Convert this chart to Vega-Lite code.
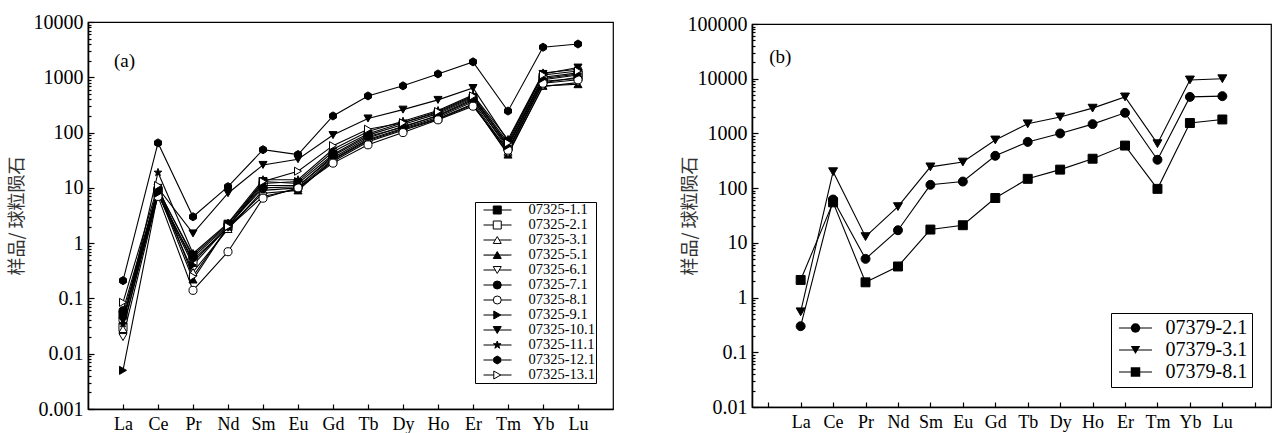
{
  "$schema": "https://vega.github.io/schema/vega-lite/v6.json",
  "background": "white",
  "padding": {"left": 7, "top": 11, "right": 5, "bottom": 0},
  "spacing": 66,
  "resolve": {"scale": {"shape": "independent", "fill": "independent", "stroke": "independent"}, "legend": {"shape": "independent", "fill": "independent", "stroke": "independent"}},
  "config": {
    "font": "Liberation Serif",
    "view": {"stroke": "black", "strokeWidth": 1.2},
    "axis": {
      "domainColor": "black", "domainWidth": 1.6, "tickColor": "black", "tickWidth": 1.2,
      "labelColor": "black", "labelFont": "Liberation Serif", "labelFontSize": 18, "grid": false
    }
  },
  "datasets": {
    "a": [
      {"sample": "07325-1.1", "La": 0.05, "Ce": 9, "Pr": 0.6, "Nd": 2.2, "Sm": 13, "Eu": 12, "Gd": 40, "Tb": 90, "Dy": 140, "Ho": 220, "Er": 420, "Tm": 60, "Yb": 1000, "Lu": 1200},
      {"sample": "07325-2.1", "La": 0.03, "Ce": 8.5, "Pr": 0.45, "Nd": 2.0, "Sm": 11, "Eu": 11, "Gd": 35, "Tb": 80, "Dy": 130, "Ho": 200, "Er": 380, "Tm": 55, "Yb": 900, "Lu": 1100},
      {"sample": "07325-3.1", "La": 0.028, "Ce": 8, "Pr": 0.3, "Nd": 1.8, "Sm": 9, "Eu": 10, "Gd": 33, "Tb": 75, "Dy": 120, "Ho": 190, "Er": 360, "Tm": 45, "Yb": 800, "Lu": 1000},
      {"sample": "07325-5.1", "La": 0.04, "Ce": 8.5, "Pr": 0.22, "Nd": 2.0, "Sm": 8, "Eu": 9, "Gd": 32, "Tb": 72, "Dy": 115, "Ho": 180, "Er": 330, "Tm": 40, "Yb": 700, "Lu": 750},
      {"sample": "07325-6.1", "La": 0.02, "Ce": 7.5, "Pr": 0.5, "Nd": 1.9, "Sm": 7, "Eu": 9.5, "Gd": 30, "Tb": 68, "Dy": 110, "Ho": 175, "Er": 320, "Tm": 42, "Yb": 680, "Lu": 800},
      {"sample": "07325-7.1", "La": 0.06, "Ce": 9.5, "Pr": 0.55, "Nd": 2.1, "Sm": 10, "Eu": 10.5, "Gd": 38, "Tb": 85, "Dy": 125, "Ho": 205, "Er": 400, "Tm": 50, "Yb": 850, "Lu": 950},
      {"sample": "07325-8.1", "La": 0.04, "Ce": 7, "Pr": 0.14, "Nd": 0.7, "Sm": 6.5, "Eu": 10, "Gd": 28, "Tb": 60, "Dy": 100, "Ho": 170, "Er": 300, "Tm": 48, "Yb": 780, "Lu": 900},
      {"sample": "07325-9.1", "La": 0.005, "Ce": 8, "Pr": 0.4, "Nd": 2.0, "Sm": 12, "Eu": 13, "Gd": 45, "Tb": 95, "Dy": 150, "Ho": 230, "Er": 440, "Tm": 58, "Yb": 950, "Lu": 1150},
      {"sample": "07325-10.1", "La": 0.04, "Ce": 10, "Pr": 1.5, "Nd": 8, "Sm": 26, "Eu": 33, "Gd": 90, "Tb": 180, "Dy": 260, "Ho": 390, "Er": 640, "Tm": 70, "Yb": 1150, "Lu": 1500},
      {"sample": "07325-11.1", "La": 0.035, "Ce": 19, "Pr": 0.65, "Nd": 2.3, "Sm": 14, "Eu": 14, "Gd": 50, "Tb": 105, "Dy": 160, "Ho": 250, "Er": 480, "Tm": 75, "Yb": 1200, "Lu": 1400},
      {"sample": "07325-12.1", "La": 0.21, "Ce": 65, "Pr": 3.0, "Nd": 10.5, "Sm": 49, "Eu": 40, "Gd": 200, "Tb": 460, "Dy": 700, "Ho": 1150, "Er": 1900, "Tm": 245, "Yb": 3500, "Lu": 4000},
      {"sample": "07325-13.1", "La": 0.085, "Ce": 11, "Pr": 0.25, "Nd": 2.0, "Sm": 13, "Eu": 20, "Gd": 58, "Tb": 115, "Dy": 150, "Ho": 240, "Er": 460, "Tm": 65, "Yb": 1100, "Lu": 1300}
    ],
    "b": [
      {"sample": "07379-2.1", "La": 0.3, "Ce": 62, "Pr": 5.1, "Nd": 17, "Sm": 115, "Eu": 132, "Gd": 390, "Tb": 700, "Dy": 1000, "Ho": 1480, "Er": 2380, "Tm": 330, "Yb": 4650, "Lu": 4800},
      {"sample": "07379-3.1", "La": 0.55, "Ce": 200, "Pr": 13, "Nd": 46, "Sm": 245, "Eu": 300, "Gd": 760, "Tb": 1500, "Dy": 2000, "Ho": 2900, "Er": 4650, "Tm": 650, "Yb": 9500, "Lu": 10000},
      {"sample": "07379-8.1", "La": 2.1, "Ce": 55, "Pr": 1.9, "Nd": 3.7, "Sm": 17.5, "Eu": 21, "Gd": 66, "Tb": 148, "Dy": 218, "Ho": 345, "Er": 600, "Tm": 97, "Yb": 1550, "Lu": 1800}
    ]
  },
  "hconcat": [
    {
      "width": 525,
      "height": 387,
      "layer": [
        {
          "data": {"name": "a"},
          "transform": [{"fold": ["La", "Ce", "Pr", "Nd", "Sm", "Eu", "Gd", "Tb", "Dy", "Ho", "Er", "Tm", "Yb", "Lu"], "as": ["element", "value"]}],
          "mark": {"type": "line", "strokeWidth": 1.1},
          "encoding": {
            "x": {"field": "element", "type": "ordinal", "sort": ["La", "Ce", "Pr", "Nd", "Sm", "Eu", "Gd", "Tb", "Dy", "Ho", "Er", "Tm", "Yb", "Lu"],
                  "scale": {"type": "point", "domain": ["La", "Ce", "Pr", "Nd", "Sm", "Eu", "Gd", "Tb", "Dy", "Ho", "Er", "Tm", "Yb", "Lu"], "padding": 1},
                  "axis": {"title": null, "tickSize": -5, "labelPadding": 11, "labelAngle": 0}},
            "y": {"field": "value", "type": "quantitative",
                  "scale": {"type": "log", "domain": [0.001, 10000], "nice": false},
                  "axis": {"title": "样品/ 球粒陨石", "values": [0.001, 0.01, 0.1, 1, 10, 100, 1000, 10000], "labelExpr": "toString(datum.value)", "labelFontSize": 20,
                           "tickSize": -6, "labelPadding": 11, "titleFont": "Noto Sans CJK SC", "titleFontSize": 18, "titleFontWeight": "normal", "titleColor": "#333333", "titlePadding": 7}},
            "stroke": {"field": "sample", "type": "nominal", "scale": {"range": ["black"]},
                       "legend": {"orient": "none", "legendX": 387, "legendY": 180, "title": null, "symbolType": "stroke", "symbolSize": 784, "symbolStrokeWidth": 1.2,
                                  "labelExpr": "''", "labelFontSize": 14.5, "labelFont": "Liberation Serif", "clipHeight": 14, "rowPadding": 0, "padding": 1,
                                  "symbolOffset": 6.5, "labelOffset": 9}}
          }
        },
        {
          "data": {"name": "a"},
          "transform": [{"fold": ["La", "Ce", "Pr", "Nd", "Sm", "Eu", "Gd", "Tb", "Dy", "Ho", "Er", "Tm", "Yb", "Lu"], "as": ["element", "value"]}],
          "mark": {"type": "point", "size": 65, "opacity": 1, "filled": true, "stroke": "black", "strokeWidth": 1},
          "encoding": {
            "x": {"field": "element", "type": "ordinal", "sort": ["La", "Ce", "Pr", "Nd", "Sm", "Eu", "Gd", "Tb", "Dy", "Ho", "Er", "Tm", "Yb", "Lu"],
                  "axis": {"title": null, "tickSize": -5, "labelPadding": 11, "labelAngle": 0}},
            "y": {"field": "value", "type": "quantitative",
                  "axis": {"orient": "left", "title": null, "labels": false, "domain": false, "tickSize": -3,
                           "values": [0.002,0.003,0.004,0.005,0.006,0.007,0.008,0.009,0.02,0.03,0.04,0.05,0.06,0.07,0.08,0.09,0.2,0.3,0.4,0.5,0.6,0.7,0.8,0.9,2,3,4,5,6,7,8,9,20,30,40,50,60,70,80,90,200,300,400,500,600,700,800,900,2000,3000,4000,5000,6000,7000,8000,9000]}},
            "shape": {"field": "sample", "type": "nominal",
                      "scale": {"domain": ["07325-1.1", "07325-2.1", "07325-3.1", "07325-5.1", "07325-6.1", "07325-7.1", "07325-8.1", "07325-9.1", "07325-10.1", "07325-11.1", "07325-12.1", "07325-13.1"],
                                "range": ["square", "square", "triangle-up", "triangle-up", "triangle-down", "circle", "circle", "triangle-right", "triangle-down",
                                          "M0,-1L0.235,-0.324L0.951,-0.309L0.38,0.124L0.588,0.809L0,0.4L-0.588,0.809L-0.38,0.124L-0.951,-0.309L-0.235,-0.324Z",
                                          "M0,-1L0.866,-0.5L0.866,0.5L0,1L-0.866,0.5L-0.866,-0.5Z", "triangle-right"]},
                      "legend": {"orient": "none", "legendX": 387, "legendY": 180, "title": null, "symbolSize": 64, "symbolStrokeWidth": 1,
                                 "labelFontSize": 14.5, "labelFont": "Liberation Serif", "labelColor": "black", "clipHeight": 14, "rowPadding": 0, "padding": 1,
                                 "strokeColor": "black", "symbolOffset": 14, "labelOffset": 24,
                                 "encode": {"symbols": {"stroke": {"value": "black"}, "strokeWidth": {"value": 1}}}}},
            "fill": {"field": "sample", "type": "nominal",
                     "scale": {"domain": ["07325-1.1", "07325-2.1", "07325-3.1", "07325-5.1", "07325-6.1", "07325-7.1", "07325-8.1", "07325-9.1", "07325-10.1", "07325-11.1", "07325-12.1", "07325-13.1"],
                               "range": ["black", "white", "white", "black", "white", "black", "white", "black", "black", "black", "black", "white"]},
                     "legend": {"orient": "none", "legendX": 387, "legendY": 180, "title": null, "symbolSize": 64, "symbolStrokeWidth": 1,
                                "labelFontSize": 14.5, "labelFont": "Liberation Serif", "labelColor": "black", "clipHeight": 14, "rowPadding": 0, "padding": 1,
                                "strokeColor": "black", "symbolOffset": 14, "labelOffset": 24,
                                "encode": {"symbols": {"stroke": {"value": "black"}, "strokeWidth": {"value": 1}}}}}
          }
        },
        {
          "data": {"values": [{"label": "(a)"}]},
          "mark": {"type": "text", "align": "left", "baseline": "middle", "fontSize": 19, "dx": -9, "font": "Liberation Serif", "color": "black"},
          "encoding": {
            "text": {"field": "label"},
            "x": {"datum": "La", "type": "ordinal", "axis": {"title": null, "tickSize": -5, "labelPadding": 11, "labelAngle": 0}},
            "y": {"datum": 2000, "type": "quantitative", "axis": null}
          }
        }
      ],
      "resolve": {"axis": {"y": "independent"}}
    },
    {
      "spacing": 1,
      "bounds": "flush",
      "vconcat": [
        {
          "width": 519,
          "height": 1,
          "view": {"stroke": null},
          "data": {"values": []},
          "mark": "point"
        },
        {
          "width": 519,
          "height": 383,
          "layer": [
            {
              "data": {"name": "b"},
              "transform": [{"fold": ["La", "Ce", "Pr", "Nd", "Sm", "Eu", "Gd", "Tb", "Dy", "Ho", "Er", "Tm", "Yb", "Lu"], "as": ["element", "value"]}],
              "mark": {"type": "line", "strokeWidth": 1.1},
              "encoding": {
                "x": {"field": "element", "type": "ordinal", "sort": ["La", "Ce", "Pr", "Nd", "Sm", "Eu", "Gd", "Tb", "Dy", "Ho", "Er", "Tm", "Yb", "Lu"],
                      "scale": {"type": "point", "domain": [" ", "La", "Ce", "Pr", "Nd", "Sm", "Eu", "Gd", "Tb", "Dy", "Ho", "Er", "Tm", "Yb", "Lu", "  "], "padding": 0.5},
                      "axis": {"title": null, "tickSize": -5, "labelPadding": 11, "labelAngle": 0}},
                "y": {"field": "value", "type": "quantitative",
                      "scale": {"type": "log", "domain": [0.01, 100000], "nice": false},
                      "axis": {"title": "样品/ 球粒陨石", "values": [0.01, 0.1, 1, 10, 100, 1000, 10000, 100000], "labelExpr": "toString(datum.value)", "labelFontSize": 20,
                               "tickSize": -6, "labelPadding": 11, "titleFont": "Noto Sans CJK SC", "titleFontSize": 18, "titleFontWeight": "normal", "titleColor": "#333333", "titlePadding": -12}},
                "stroke": {"field": "sample", "type": "nominal", "scale": {"range": ["black"]},
                           "legend": {"orient": "none", "legendX": 359, "legendY": 291, "title": null, "symbolType": "stroke", "symbolSize": 1089, "symbolStrokeWidth": 1.2,
                                      "labelExpr": "''", "labelFontSize": 20, "labelFont": "Liberation Serif", "clipHeight": 22, "rowPadding": 0, "padding": 4,
                                      "symbolOffset": 3, "labelOffset": 5}}
              }
            },
            {
              "data": {"name": "b"},
              "transform": [{"fold": ["La", "Ce", "Pr", "Nd", "Sm", "Eu", "Gd", "Tb", "Dy", "Ho", "Er", "Tm", "Yb", "Lu"], "as": ["element", "value"]}],
              "mark": {"type": "point", "size": 80, "opacity": 1, "fill": "black", "stroke": "black", "strokeWidth": 1, "filled": true},
              "encoding": {
                "x": {"field": "element", "type": "ordinal", "sort": ["La", "Ce", "Pr", "Nd", "Sm", "Eu", "Gd", "Tb", "Dy", "Ho", "Er", "Tm", "Yb", "Lu"],
                      "axis": {"title": null, "tickSize": -5, "labelPadding": 11, "labelAngle": 0}},
                "y": {"field": "value", "type": "quantitative",
                      "axis": {"orient": "left", "title": null, "labels": false, "domain": false, "tickSize": -3,
                               "values": [0.02,0.03,0.04,0.05,0.06,0.07,0.08,0.09,0.2,0.3,0.4,0.5,0.6,0.7,0.8,0.9,2,3,4,5,6,7,8,9,20,30,40,50,60,70,80,90,200,300,400,500,600,700,800,900,2000,3000,4000,5000,6000,7000,8000,9000,20000,30000,40000,50000,60000,70000,80000,90000]}},
                "shape": {"field": "sample", "type": "nominal",
                          "scale": {"domain": ["07379-2.1", "07379-3.1", "07379-8.1"], "range": ["circle", "triangle-down", "square"]},
                          "legend": {"orient": "none", "legendX": 359, "legendY": 291, "title": null, "symbolSize": 90, "symbolStrokeWidth": 1, "symbolStrokeColor": "black", "symbolFillColor": "black",
                                     "labelFontSize": 20, "labelFont": "Liberation Serif", "labelColor": "black", "clipHeight": 22, "rowPadding": 0, "padding": 4,
                                     "strokeColor": "black", "symbolOffset": 10.5, "labelOffset": 20}}
              }
            },
            {
              "data": {"values": [{"label": "(b)"}]},
              "mark": {"type": "text", "align": "left", "baseline": "middle", "fontSize": 19, "dx": 1, "font": "Liberation Serif", "color": "black"},
              "encoding": {
                "text": {"field": "label"},
                "x": {"datum": " ", "type": "ordinal", "axis": {"title": null, "tickSize": -5, "labelPadding": 11, "labelAngle": 0}},
                "y": {"datum": 25000, "type": "quantitative", "axis": null}
              }
            }
          ],
          "resolve": {"axis": {"y": "independent"}}
        }
      ]
    }
  ]
}
